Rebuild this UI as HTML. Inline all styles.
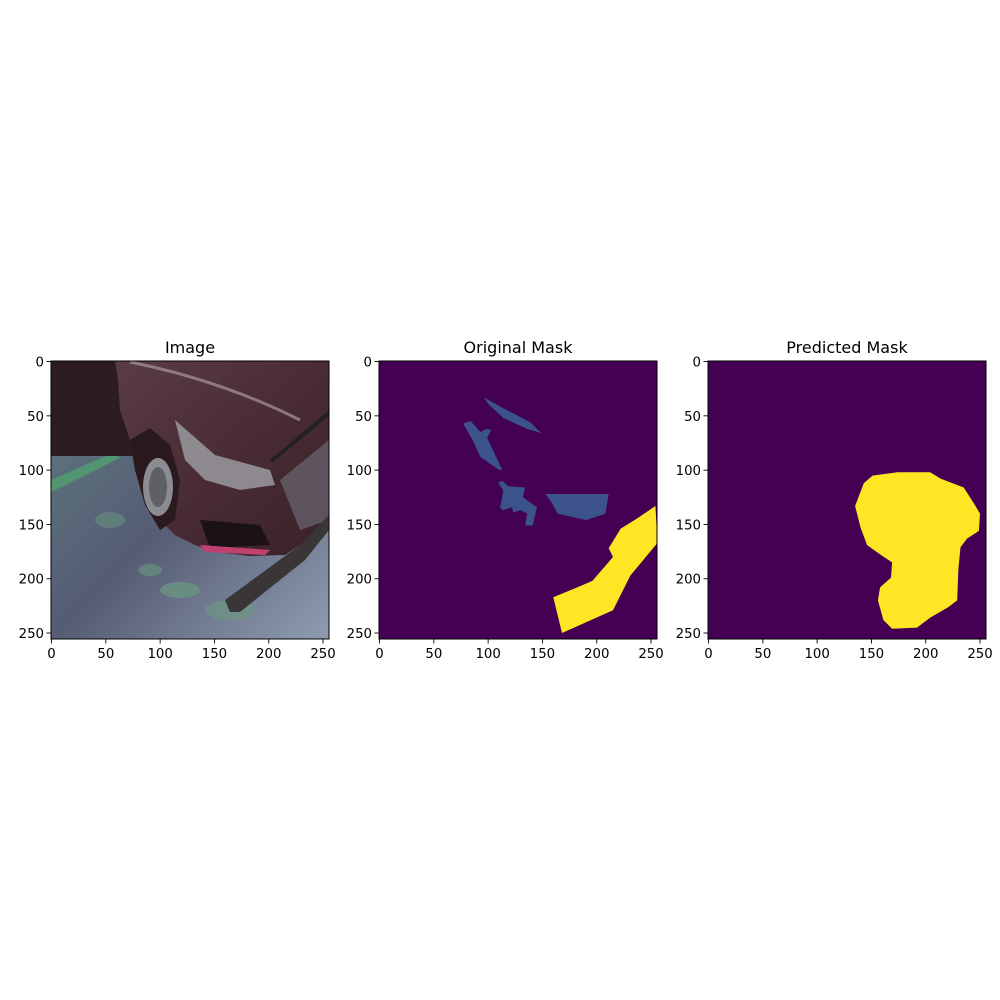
<!DOCTYPE html>
<html><head><meta charset="utf-8"><style>
html,body{margin:0;padding:0;background:#fff;}
svg{display:block;font-family:"DejaVu Sans","Liberation Sans",sans-serif;}
</style></head><body>
<svg id="fig" width="1000" height="1000" viewBox="0 0 1000 1000" xmlns="http://www.w3.org/2000/svg">
<rect width="1000" height="1000" fill="#fff"/>
<defs>
<linearGradient id="floor" x1="0" y1="0" x2="1" y2="1">
<stop offset="0" stop-color="#5f7a80"/><stop offset="0.5" stop-color="#555c74"/><stop offset="1" stop-color="#8f9cb0"/>
</linearGradient>
<linearGradient id="body" x1="0" y1="0" x2="1" y2="1">
<stop offset="0" stop-color="#5a3d44"/><stop offset="0.5" stop-color="#4a2c34"/><stop offset="1" stop-color="#3a2228"/>
</linearGradient>
<clipPath id="c1"><rect x="51" y="361" width="278" height="278"/></clipPath>
</defs>
<g id="panel-image" clip-path="url(#c1)">
<rect x="51" y="361" width="278" height="278" fill="url(#floor)"/>
<path d="M51,480 L115,452 L120,458 L51,492Z" fill="#4fa070" opacity="0.8"/>
<ellipse cx="180" cy="590" rx="20" ry="8" fill="#6a9a80" opacity="0.7"/>
<ellipse cx="150" cy="570" rx="12" ry="6" fill="#6a9a80" opacity="0.6"/>
<ellipse cx="230" cy="610" rx="25" ry="10" fill="#6a9a80" opacity="0.6"/>
<ellipse cx="110" cy="520" rx="15" ry="8" fill="#6a9a80" opacity="0.5"/>
<rect x="51" y="361" width="90" height="95" fill="#2c1c20"/>
<path d="M115,361 L329,361 L329,520 L300,545 L285,555 L250,556 L215,552 L195,545 L175,535 L160,520 L145,500 L135,470 L130,440 L120,410 L118,380Z" fill="url(#body)"/>
<path d="M130,440 L150,428 L170,445 L180,480 L175,520 L160,530 L145,505 L135,470Z" fill="#2a1a1e"/>
<ellipse cx="158" cy="487" rx="15" ry="29" fill="#8a8c92"/>
<ellipse cx="158" cy="487" rx="9" ry="20" fill="#5e6066"/>
<path d="M175,420 L215,455 L270,470 L275,485 L240,490 L205,480 L185,460Z" fill="#9a9aa0" opacity="0.85"/>
<path d="M200,520 L260,525 L270,545 L210,548Z" fill="#1a1214"/>
<path d="M200,545 L270,550 L265,555 L205,552Z" fill="#c04070"/>
<path d="M270,460 L329,410 L329,416 L272,463Z" fill="#222"/>
<path d="M280,480 L329,440 L329,520 L300,530Z" fill="#6a6670" opacity="0.7"/>
<path d="M225,600 L300,545 L329,515 L329,530 L305,560 L240,612 L230,612Z" fill="#3a3638"/>
<path d="M130,362 Q220,380 300,420" stroke="#b8a8ac" stroke-width="3" fill="none" opacity="0.6"/>
</g>
<rect x="51" y="361" width="278" height="278" fill="none" stroke="#000" stroke-width="1"/>
<g id="panel-orig"></g>
<g id="panel-pred"></g>
<g id="axes-layer"></g>
</svg>
<script>
const ticks=[0,50,100,150,200,250];
const panelX=[51,379,708];
const panelTitles=["Image","Original Mask","Predicted Mask"];
const origSliver=[[96,33],[114,43],[139,56],[149,66],[136,62],[114,52],[100,39]];
const origArrow=[[77,57],[84,55],[93,65],[98,62],[103,63],[99,70],[113,100],[109,99],[93,88],[86,73]];
const origMiddle=[[109,111],[113,110],[119,115],[134,116],[132,125],[145,134],[141,151],[134,151],[136,140],[130,137],[123,139],[122,134],[114,137],[111,135],[114,119]];
const origRight=[[153,122],[211,122],[208,140],[190,146],[164,140],[159,131]];
const origYellow=[[160,217],[182,208],[196,202],[215,180],[211,172],[222,154],[238,144],[254,133],[256,167],[231,197],[215,229],[168,250]];
const predBlob=[[151,105],[174,102],[186,102],[204,102],[214,108],[235,116],[244,130],[250,140],[249,156],[238,163],[232,171],[230,192],[229,220],[221,226],[204,236],[192,245],[169,246],[161,238],[156,220],[158,208],[168,199],[169,185],[160,179],[146,169],[140,153],[135,133],[143,112]];
const Y0=361, SZ=278, N=256;
const NS="http://www.w3.org/2000/svg";
function sx(p,v){return panelX[p]+(v+0.5)*SZ/N;}
function sy(v){return Y0+(v+0.5)*SZ/N;}
function mk(tag,attrs,parent){const e=document.createElementNS(NS,tag);for(const k in attrs)e.setAttribute(k,attrs[k]);parent.appendChild(e);return e;}
function poly(p,pts,fill,name,parent){
  const e=mk('polygon',{points:pts.map(q=>sx(p,q[0]).toFixed(1)+','+sy(q[1]).toFixed(1)).join(' '),fill:fill},parent);
  
  
}
const g2=document.getElementById('panel-orig');
const bg2=mk('rect',{x:panelX[1],y:Y0,width:SZ,height:SZ,fill:'#440154'},g2);


poly(1,origSliver,'#3b528b','mask-region-sliver',g2);
poly(1,origArrow,'#3b528b','mask-region-arrow',g2);
poly(1,origMiddle,'#3b528b','mask-region-middle',g2);
poly(1,origRight,'#3b528b','mask-region-right',g2);
poly(1,origYellow,'#fde725','mask-region-yellow',g2);
const g3=document.getElementById('panel-pred');
const bg3=mk('rect',{x:panelX[2],y:Y0,width:SZ,height:SZ,fill:'#440154'},g3);


poly(2,predBlob,'#fde725','predicted-region',g3);
const ax=document.getElementById('axes-layer');
for(let p=0;p<3;p++){
  const fr=mk('rect',{x:panelX[p],y:Y0,width:SZ,height:SZ,fill:'none',stroke:'#000','stroke-width':1},ax);
  
  
  const t=mk('text',{x:panelX[p]+SZ/2,y:Y0-8,'text-anchor':'middle','font-size':16,fill:'#000'},ax);
  t.textContent=panelTitles[p];
  
  
  ticks.forEach(v=>{
    const x=sx(p,v), y=sy(v);
    mk('line',{x1:x,y1:Y0+SZ,x2:x,y2:Y0+SZ+4.5,stroke:'#000','stroke-width':0.9},ax);
    const xl=mk('text',{x:x,y:Y0+SZ+19,'text-anchor':'middle','font-size':13.3,fill:'#000'},ax);
    xl.textContent=v;
    
    
    mk('line',{x1:panelX[p]-4.5,y1:y,x2:panelX[p],y2:y,stroke:'#000','stroke-width':0.9},ax);
    const yl=mk('text',{x:panelX[p]-7,y:y+5,'text-anchor':'end','font-size':13.3,fill:'#000'},ax);
    yl.textContent=v;
    
    
  });
}
</script>
</body></html>
